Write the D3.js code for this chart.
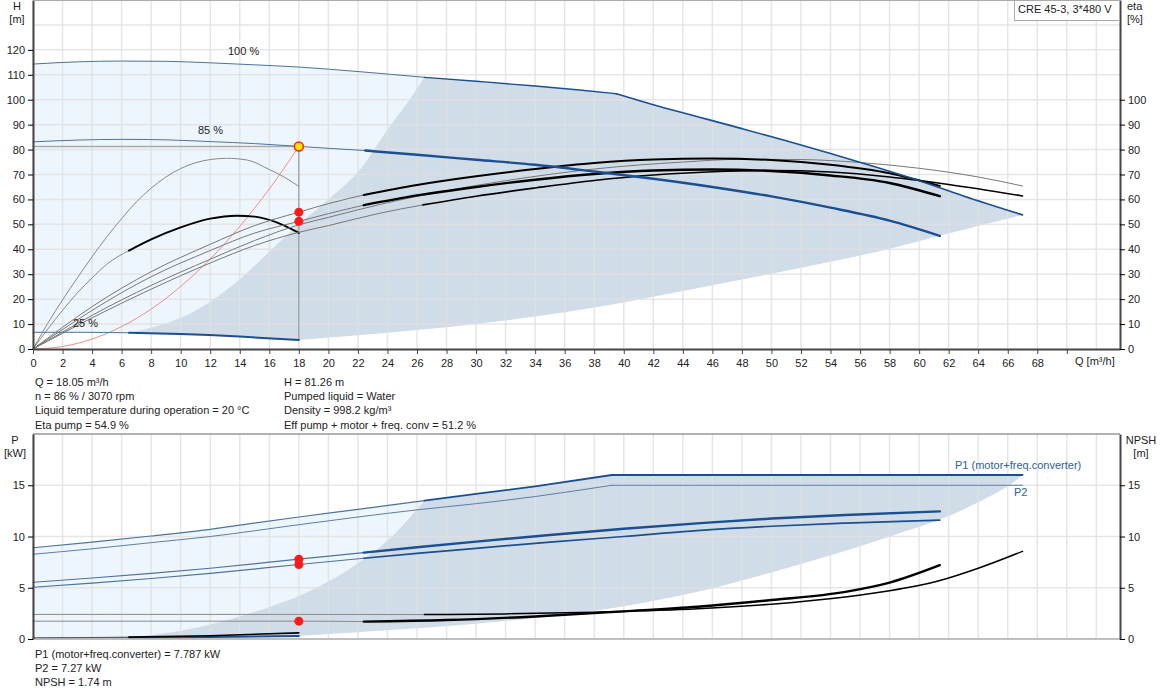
<!DOCTYPE html>
<html lang="en">
<head>
    <meta charset="UTF-8">
    <title>pump-curves</title>
    <script src="https://cdn.jsdelivr.net/npm/d3@7/dist/d3.min.js"></script>
    <style>
        body{ margin: 0; background: #fff; }
        svg text{ font-family: "Liberation Sans", Arial, sans-serif; fill: #222; }
        .axis text{ font-size: 11px; }
        .info{ font-size: 11px; }
    </style>
</head>
<body>
<svg class="chart"></svg>
</body>
<script>

    // tick labels
    var qTicks = d3.range(0, 70, 2);
    var hTicks = d3.range(0, 130, 10);
    var etaTicks = d3.range(0, 110, 10);
    var pTicks = [0, 5, 10, 15];
    var npshTicks = [0, 5, 10, 15];

    // head curves [Q, H]
    var h100 = [[0,114.3],[3,115.2],[6,115.5],[9,115.4],[12,114.8],[15,114],[18,113.1],[22,111.3],[26.5,109],[30,107.4],[34,105.5],[37,103.9],[39.5,102.4],[42,98],[45,93.2],[48,88.4],[51,83.5],[54,78.4],[57,73.1],[60,67.5],[63,61.4],[67,53.8]];
    var h85 = [[0,83.1],[3,83.8],[6,84.1],[9,83.9],[12,83.2],[15,82.4],[18,81.26],[22.5,79.6],[26,77.9],[30,75.9],[34,73.9],[38,71.2],[42,68.3],[46,65],[50,61.2],[54,56.7],[58,51.5],[61.4,45.4]];
    var h25 = [[0,6.7],[3,6.7],[6.5,6.5],[10,6],[14,5],[18,3.6]];
    var sysCurve = [[0,0],[2,1],[4,4],[6,9],[8,16],[10,25.1],[12,36.1],[14,49.2],[16,64.2],[18,81.26]];

    // efficiency curves [Q, eta]
    var etaLow1 = [[0,0],[1,10.3],[2,19.7],[3,28.5],[4,37],[5,45],[6,52.3],[7,59],[8,64.5],[9,69],[10,72.4],[11,74.7],[12,76],[13.1,76.5],[14.5,75.8],[16,72],[17,69],[18,65.2]];
    var etaLow2 = [[0,0],[1,8],[2,15.5],[3,22.5],[4,28.5],[5,34],[6.5,39.5],[8,44],[10,48.8],[12,52.3],[13.8,53.5],[15,53.1],[16.5,50.8],[18,46.6]];
    var etaPump86 = [[0,0],[2,8.7],[4,17],[8,31],[12,42],[15,49.5],[18,54.9],[20,58.3],[22.4,61.8],[26,65.8],[30,69.3],[34,72.2],[38,74.6],[42,76],[46,76.4],[50,75.8],[54,73.9],[58,70.5],[61.4,65.4]];
    var etaTot86 = [[0,0],[2,7.8],[4,15.5],[8,29],[12,39.5],[15,46.5],[18,51.2],[20,54.3],[22.4,57.7],[26,61.6],[30,65],[34,67.9],[38,70.2],[42,71.6],[46,72],[50,71.4],[54,69.6],[58,66.6],[61.4,61.3]];
    var etaPump100 = [[0,0],[2,6.8],[4,13.5],[8,25.5],[12,36],[15,43.5],[18,49.8],[20,52.8],[23.5,58],[28,63.5],[32,67.5],[38,72.2],[44,75],[48,76.1],[52,76],[56,74.8],[60,72.5],[64,69],[67,65.4]];
    var etaTot100 = [[0,0],[2,6.3],[4,12.5],[8,24],[12,34.5],[15,41.5],[18,46.8],[20,49.5],[23.5,54.5],[26.4,57.8],[30,61.3],[34,64.6],[38,67.6],[42,69.8],[46,71.1],[50,71.6],[54,71],[58,69],[62,66],[67,61.4]];

    // operating range outline (head chart)
    var hRangeLeft = [[6.5,6.5],[8,8.5],[10,12.5],[12,19],[14,28],[16,39],[18,50],[20,60],[22,71],[24,88],[25.5,100],[26.5,109]];
    var hRangeLow = [[18,3.6],[22,5.5],[26,7.6],[30,10],[34,13],[38,16.6],[42,21],[46,25.6],[50,30.2],[54,35],[58,40.2],[61.4,45.4],[67,53.8]];

    // power and NPSH curves [Q, value]
    var p1Full = [[0,8.9],[4,9.45],[8,10.05],[12,10.7],[14.7,11.25],[18,11.9],[22,12.65],[26.5,13.5],[30,14.15],[34,14.9],[39.2,16],[45,16],[55,16],[67,16]];
    var p2Full = [[0,8.27],[4,8.8],[8,9.4],[12,10],[18,11.15],[22,11.9],[26,12.6],[30,13.2],[34,13.9],[39.2,15],[50,15],[67,15]];
    var p1Op = [[0,5.53],[4,5.95],[8,6.4],[12,6.9],[18,7.787],[22.4,8.43],[26,8.95],[30,9.5],[35,10.15],[40,10.75],[45.2,11.3],[50,11.75],[55,12.1],[61.4,12.45]];
    var p2Op = [[0,5.05],[4,5.45],[8,5.9],[12,6.4],[18,7.27],[22.4,7.88],[26,8.35],[30,8.85],[35,9.45],[40,10],[45.2,10.6],[50,11],[55,11.3],[61.4,11.6]];
    var pMinBlue = [[0,0.1],[6.5,0.14],[12,0.2],[18,0.3]];
    var pMinBlack = [[0,0.1],[6.5,0.18],[12,0.32],[18,0.6]];
    var npshFull = [[0,2.4],[10,2.4],[18,2.4],[26.5,2.38],[32,2.45],[38,2.62],[45,2.95],[50,3.4],[55,4.1],[58,4.7],[61.4,5.7],[64,6.9],[67,8.55]];
    var npshOp = [[0,1.74],[10,1.74],[18,1.74],[22.4,1.7],[28,1.85],[34,2.2],[40,2.7],[45,3.15],[50,3.8],[55,4.6],[58,5.5],[61.4,7.2]];
    var pRangeLeft = [[6.5,0.14],[10,0.8],[14,2.2],[18,4.2],[20,5.6],[22,7.4],[24,9.6],[26.5,13.5]];
    var pRangeLow = [[18,0.3],[24,0.85],[30,1.5],[35,2.2],[40,3.2],[45,4.6],[50,6.5],[55,8.6],[58,10],[62,12],[66,14.9],[67,16]];

    // duty point and texts
    var duty = {q: 18, h: 81.26, etaPump: 54.9, etaTot: 51.2, p1: 7.787, p2: 7.27, npsh: 1.74};
    var infoLeft = ['Q = 18.05 m\u00b3/h', 'n = 86 % / 3070 rpm', 'Liquid temperature during operation = 20 \u00b0C', 'Eta pump = 54.9 %'];
    var infoRight = ['H = 81.26 m', 'Pumped liquid = Water', 'Density = 998.2 kg/m\u00b3', 'Eff pump + motor + freq. conv = 51.2 %'];
    var infoBottom = ['P1 (motor+freq.converter) = 7.787 kW', 'P2 = 7.27 kW', 'NPSH = 1.74 m'];

    var width = 1162, height = 700;

    var svg = d3.select('.chart').attr('width', width).attr('height', height);

    // scales
    var x = d3.scaleLinear().domain([0, 73.6]).range([33, 1120]);
    var yH = d3.scaleLinear().domain([0, 140]).range([349, 0]);
    var yP = d3.scaleLinear().domain([0, 20]).range([639, 434]);

    function seg(data, from, to) {
        return data.filter(function (d) { return d[0] >= from - 1e-6 && d[0] <= to + 1e-6; });
    }

    function addLine(g, y, pts, color, w) {
        var line = d3.line()
            .x(function (d) { return x(d[0]); })
            .y(function (d) { return y(d[1]); })
            .curve(d3.curveMonotoneX);
        g.append('path').datum(pts)
            .attr('d', line)
            .attr('fill', 'none')
            .attr('stroke', color)
            .attr('stroke-width', w)
            .attr('stroke-linecap', 'round');
    }

    // polygon out of several curve pieces
    function areaPath(y, pieces) {
        var line = d3.line()
            .x(function (d) { return x(d[0]); })
            .y(function (d) { return y(d[1]); })
            .curve(d3.curveCatmullRom);
        var s = '';
        pieces.forEach(function (p, i) {
            var d = line(p);
            s += (i === 0) ? d : d.replace(/^M/, 'L');
        });
        return s + 'Z';
    }

    function rev(a) { return a.slice().reverse(); }

    var thinBlue = '#4d729c', thickBlue = '#1b4f8f', light = '#eef6fd', dark = '#d0dce8', grid = '#e0e0e0';

    // ---------------- head / efficiency chart ----------------
    var gTop = svg.append('g');

    gTop.append('path')
        .attr('d', areaPath(yH, [seg(h100, 0, 26.5), [[18, 3.6]], rev(h25)]))
        .attr('fill', light);
    gTop.append('path')
        .attr('d', areaPath(yH, [hRangeLeft, seg(h100, 26.5, 67), rev(hRangeLow), rev(seg(h25, 6.5, 18))]))
        .attr('fill', dark);

    // grid
    gTop.selectAll('.vg').data(d3.range(0, 74, 2)).enter().append('line')
        .attr('x1', function (d) { return x(d); }).attr('x2', function (d) { return x(d); })
        .attr('y1', yH(140)).attr('y2', yH(0))
        .attr('stroke', grid).attr('stroke-width', 1.5).attr('stroke-opacity', 0.8);
    gTop.selectAll('.hg').data(d3.range(10, 141, 10)).enter().append('line')
        .attr('x1', x(0)).attr('x2', 1120)
        .attr('y1', function (d) { return yH(d); }).attr('y2', function (d) { return yH(d); })
        .attr('stroke', grid).attr('stroke-width', 1.5).attr('stroke-opacity', 0.8);

    // curves
    addLine(gTop, yH, sysCurve, '#f28c8c', 1);
    addLine(gTop, yH, [[0, duty.h], [duty.q, duty.h]], '#aaaaaa', 1.5);
    gTop.append('line')
        .attr('x1', x(duty.q)).attr('x2', x(duty.q))
        .attr('y1', yH(duty.h)).attr('y2', yH(3.6))
        .attr('stroke', '#8a8a8a').attr('stroke-width', 1);

    addLine(gTop, yH, etaLow1, '#888', 1);
    addLine(gTop, yH, seg(etaLow2, 0, 6.5), '#888', 1);
    addLine(gTop, yH, seg(etaLow2, 6.5, 18), '#000', 2);
    addLine(gTop, yH, etaPump100, '#777', 1);
    addLine(gTop, yH, seg(etaTot100, 0, 26.4), '#777', 1);
    addLine(gTop, yH, seg(etaTot100, 26.4, 67), '#000', 1.6);
    addLine(gTop, yH, seg(etaPump86, 0, 22.4), '#777', 1);
    addLine(gTop, yH, seg(etaPump86, 22.4, 61.4), '#000', 2);
    addLine(gTop, yH, seg(etaTot86, 0, 22.4), '#777', 1);
    addLine(gTop, yH, seg(etaTot86, 22.4, 61.4), '#000', 2.4);

    addLine(gTop, yH, seg(h100, 0, 26.5), thinBlue, 1);
    addLine(gTop, yH, seg(h100, 26.5, 39.5), thickBlue, 1.3);
    addLine(gTop, yH, seg(h100, 39.5, 67), thickBlue, 1.6);
    addLine(gTop, yH, seg(h85, 0, 22.5), thinBlue, 1);
    addLine(gTop, yH, seg(h85, 22.5, 61.4), thickBlue, 2.4);
    addLine(gTop, yH, seg(h25, 0, 6.5), thinBlue, 1);
    addLine(gTop, yH, seg(h25, 6.5, 18), thickBlue, 2);

    // duty points
    gTop.append('circle').attr('cx', x(duty.q)).attr('cy', yH(duty.etaPump)).attr('r', 4.5).attr('fill', '#ff1a1a');
    gTop.append('circle').attr('cx', x(duty.q)).attr('cy', yH(duty.etaTot)).attr('r', 4.5).attr('fill', '#ff1a1a');
    gTop.append('circle').attr('cx', x(duty.q)).attr('cy', yH(duty.h)).attr('r', 4.5)
        .attr('fill', '#ffe600').attr('stroke', '#ff2020').attr('stroke-width', 1.5);

    // speed labels
    gTop.append('text').attr('x', 228).attr('y', 55).attr('font-size', 11).text('100 %');
    gTop.append('text').attr('x', 198).attr('y', 134).attr('font-size', 11).text('85 %');
    gTop.append('text').attr('x', 73).attr('y', 327).attr('font-size', 11).text('25 %');

    // axes
    var xAxis = gTop.append('g').attr('class', 'axis')
        .attr('transform', 'translate(0,' + yH(0) + ')')
        .call(d3.axisBottom(x).tickValues(qTicks.concat([70])).tickSize(5).tickSizeOuter(0)
            .tickFormat(function (d) { return d === 70 ? '' : d; }));
    xAxis.select('.domain').attr('stroke', '#444').attr('stroke-width', 2);
    xAxis.selectAll('.tick line').attr('stroke', '#444');
    xAxis.selectAll('.tick text').attr('dy', '0.95em');

    var hAxis = gTop.append('g').attr('class', 'axis')
        .attr('transform', 'translate(' + x(0) + ',0)')
        .call(d3.axisLeft(yH).tickValues(hTicks).tickSize(5).tickSizeOuter(0));
    hAxis.select('.domain').attr('stroke', '#444').attr('stroke-width', 2);

    var etaAxis = gTop.append('g').attr('class', 'axis')
        .attr('transform', 'translate(1120,0)')
        .call(d3.axisRight(yH).tickValues(etaTicks).tickSize(5).tickSizeOuter(0));
    etaAxis.select('.domain').attr('stroke', '#444').attr('stroke-width', 2);

    gTop.append('line').attr('x1', x(0)).attr('x2', 1120).attr('y1', 0.5).attr('y2', 0.5)
        .attr('stroke', '#aaa');

    gTop.append('text').attr('x', 17).attr('y', 10).attr('text-anchor', 'middle').attr('font-size', 11).text('H');
    gTop.append('text').attr('x', 17).attr('y', 23).attr('text-anchor', 'middle').attr('font-size', 11).text('[m]');
    gTop.append('text').attr('x', 1127).attr('y', 10).attr('font-size', 11).text('eta');
    gTop.append('text').attr('x', 1127).attr('y', 23).attr('font-size', 11).text('[%]');
    gTop.append('text').attr('x', 1075).attr('y', 365).attr('font-size', 11).text('Q [m\u00b3/h]');

    // type box
    gTop.append('rect').attr('x', 1014.5).attr('y', 0.5).attr('width', 105).attr('height', 20)
        .attr('fill', '#fff').attr('stroke', '#aaa');
    gTop.append('text').attr('x', 1018).attr('y', 13).attr('font-size', 11).text('CRE 45-3, 3*480 V');

    // info texts
    svg.selectAll('.il').data(infoLeft).enter().append('text').attr('class', 'info')
        .attr('x', 35).attr('y', function (d, i) { return 386 + i * 14.2; }).text(function (d) { return d; });
    svg.selectAll('.ir').data(infoRight).enter().append('text').attr('class', 'info')
        .attr('x', 284).attr('y', function (d, i) { return 386 + i * 14.2; }).text(function (d) { return d; });
    svg.selectAll('.ib').data(infoBottom).enter().append('text').attr('class', 'info')
        .attr('x', 35).attr('y', function (d, i) { return 658 + i * 14.2; }).text(function (d) { return d; });

    // ---------------- power / NPSH chart ----------------
    var gBot = svg.append('g');

    gBot.append('path')
        .attr('d', areaPath(yP, [seg(p1Full, 0, 26.5), [[18, 0.3]], rev(pMinBlue)]))
        .attr('fill', light);
    gBot.append('path')
        .attr('d', areaPath(yP, [pRangeLeft, seg(p1Full, 26.5, 39.2), seg(p1Full, 39.2, 67), rev(pRangeLow), rev(seg(pMinBlue, 6.5, 18))]))
        .attr('fill', dark);

    gBot.selectAll('.vg').data(d3.range(0, 74, 2)).enter().append('line')
        .attr('x1', function (d) { return x(d); }).attr('x2', function (d) { return x(d); })
        .attr('y1', yP(20)).attr('y2', yP(0))
        .attr('stroke', grid).attr('stroke-width', 1.5).attr('stroke-opacity', 0.8);
    gBot.selectAll('.hg').data([5, 10, 15]).enter().append('line')
        .attr('x1', x(0)).attr('x2', 1120)
        .attr('y1', function (d) { return yP(d); }).attr('y2', function (d) { return yP(d); })
        .attr('stroke', grid).attr('stroke-width', 1.5).attr('stroke-opacity', 0.8);

    addLine(gBot, yP, seg(npshFull, 0, 26.5), '#8a8a8a', 1);
    addLine(gBot, yP, seg(npshFull, 26.5, 67), '#000', 1.5);
    addLine(gBot, yP, seg(npshOp, 0, 22.4), '#8a8a8a', 1);
    addLine(gBot, yP, seg(npshOp, 22.4, 61.4), '#000', 2.4);

    addLine(gBot, yP, seg(p1Full, 0, 26.5), thinBlue, 1.2);
    addLine(gBot, yP, seg(p1Full, 26.5, 39.2), thickBlue, 1.8);
    addLine(gBot, yP, seg(p1Full, 39.2, 67), thickBlue, 1.8);
    addLine(gBot, yP, seg(p2Full, 0, 39.2), '#5d7ea6', 1);
    addLine(gBot, yP, seg(p2Full, 39.2, 67), '#5d7ea6', 1);
    addLine(gBot, yP, seg(p1Op, 0, 22.4), thinBlue, 1.2);
    addLine(gBot, yP, seg(p1Op, 22.4, 61.4), thickBlue, 2.4);
    addLine(gBot, yP, seg(p2Op, 0, 22.4), thinBlue, 1.2);
    addLine(gBot, yP, seg(p2Op, 22.4, 61.4), thickBlue, 1.7);
    addLine(gBot, yP, seg(pMinBlue, 0, 6.5), thinBlue, 1);
    addLine(gBot, yP, seg(pMinBlue, 6.5, 18), thickBlue, 2);
    addLine(gBot, yP, seg(pMinBlack, 0, 6.5), '#555', 1);
    addLine(gBot, yP, seg(pMinBlack, 6.5, 18), '#000', 1.6);

    [duty.p1, duty.p2, duty.npsh].forEach(function (v) {
        gBot.append('circle').attr('cx', x(duty.q)).attr('cy', yP(v)).attr('r', 4.5).attr('fill', '#ff1a1a');
    });

    gBot.append('text').attr('x', 955).attr('y', 469).attr('font-size', 11)
        .style('fill', '#2d5f98').text('P1 (motor+freq.converter)');
    gBot.append('text').attr('x', 1014).attr('y', 496).attr('font-size', 11)
        .style('fill', '#2d5f98').text('P2');

    gBot.append('line').attr('x1', x(0)).attr('x2', 1120).attr('y1', yP(20)).attr('y2', yP(20))
        .attr('stroke', '#999').attr('stroke-width', 1.5);
    gBot.append('line').attr('x1', x(0)).attr('x2', 1120).attr('y1', yP(0)).attr('y2', yP(0))
        .attr('stroke', '#aaa').attr('stroke-width', 1.5);

    var pAxis = gBot.append('g').attr('class', 'axis')
        .attr('transform', 'translate(' + x(0) + ',0)')
        .call(d3.axisLeft(yP).tickValues(pTicks).tickSize(5).tickSizeOuter(0));
    pAxis.select('.domain').attr('stroke', '#444').attr('stroke-width', 2);

    var nAxis = gBot.append('g').attr('class', 'axis')
        .attr('transform', 'translate(1120,0)')
        .call(d3.axisRight(yP).tickValues(npshTicks).tickSize(5).tickSizeOuter(0));
    nAxis.select('.domain').attr('stroke', '#444').attr('stroke-width', 2);

    gBot.append('text').attr('x', 15).attr('y', 444).attr('text-anchor', 'middle').attr('font-size', 11).text('P');
    gBot.append('text').attr('x', 15).attr('y', 457).attr('text-anchor', 'middle').attr('font-size', 11).text('[kW]');
    gBot.append('text').attr('x', 1141).attr('y', 444).attr('text-anchor', 'middle').attr('font-size', 11).text('NPSH');
    gBot.append('text').attr('x', 1141).attr('y', 457).attr('text-anchor', 'middle').attr('font-size', 11).text('[m]');

</script>
</html>
